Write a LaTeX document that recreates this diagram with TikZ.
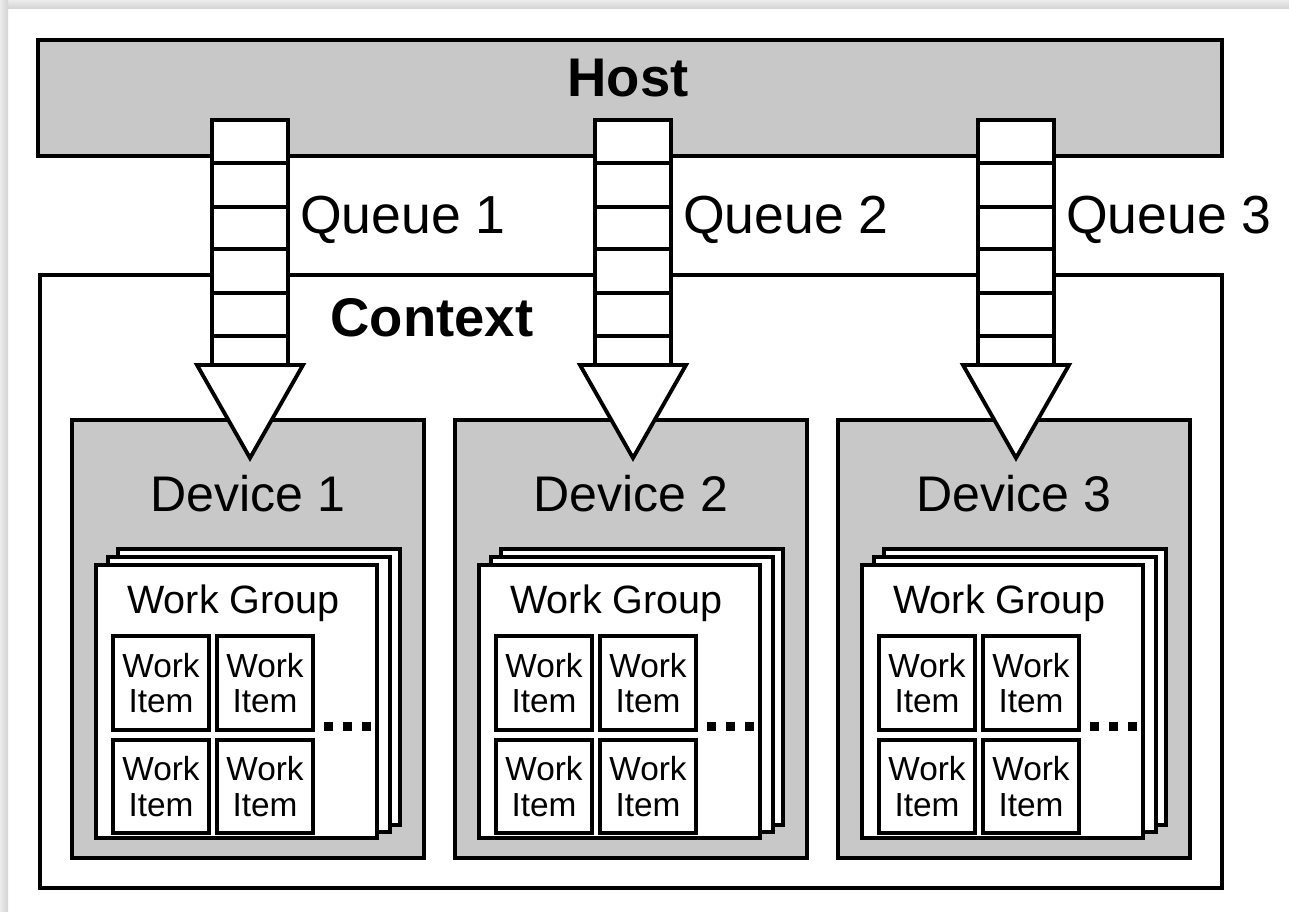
\documentclass[tikz,border=0pt]{standalone}
\usepackage{fontspec}
\setmainfont{Liberation Sans}
\usetikzlibrary{positioning,calc}

\definecolor{boxgrey}{RGB}{200,200,200}
\newcommand{\px}{0.02cm}
\newcommand{\boldlabelfont}{\bfseries\fontsize{31}{37}\selectfont}
\newcommand{\queuefont}{\fontsize{30.5}{36}\selectfont}
\newcommand{\devfont}{\fontsize{28.5}{34}\selectfont}
\newcommand{\groupfont}{\fontsize{22.5}{27}\selectfont}
\newcommand{\itemfont}{\fontsize{19}{20.4}\selectfont}

\begin{document}
\begin{tikzpicture}[x=0.02cm, y=-0.02cm, line width=2.2pt, inner sep=0pt, outer sep=0pt]
	\tikzstyle{box}=[draw=black, rectangle, anchor=north west]
	\tikzstyle{grey box}=[box, fill=boxgrey]
	\tikzstyle{white box}=[box, fill=white]
	\tikzstyle{label}=[anchor=base, text=black]
	\useasboundingbox (0,0) rectangle (1289,912);
	\fill[white] (0,0) rectangle (1289,912);
	% page shadow
	\shade[top color=gray!15, bottom color=gray!35] (0,0) rectangle (1289,9);
	\shade[left color=gray!15, right color=gray!35] (0,0) rectangle (8,912);

	\node[white box, minimum width=1182*\px, minimum height=613*\px] (context) at (40,275) {};
	\node[grey box, minimum width=1184*\px, minimum height=116*\px] (host) at (38,40) {};
	\node[label, font=\boldlabelfont] (hostlabel) at (628,97) {Host};
	\node[label, font=\boldlabelfont] (contextlabel) at (432,337) {Context};

	\foreach \d in {1,2,3} {
		\pgfmathsetmacro{\dx}{(\d-1)*383}
		\node[grey box, minimum width=352*\px, minimum height=438*\px] (dev\d) at (72+\dx,420) {};
		\node[label, font=\devfont] (devlabel\d) at ($(dev\d.north)+(0,91)$) {Device \d};
		% stacked work groups
		\node[white box, minimum width=282*\px, minimum height=276*\px] (wgc\d) at (118+\dx,549) {};
		\node[white box, minimum width=282*\px, minimum height=275*\px] (wgb\d) at (108+\dx,557) {};
		\node[white box, minimum width=281*\px, minimum height=273*\px] (wg\d) at (96+\dx,565) {};
		\node[label, font=\groupfont] (wglabel\d) at ($(wg\d.north)+(-3,48)$) {Work Group};
		\node[white box, minimum width=96*\px, minimum height=94*\px, font=\itemfont, align=center] (item\d-1) at (113+\dx,636) {Work\\Item};
		\node[white box, minimum width=96*\px, minimum height=94*\px, font=\itemfont, align=center] (item\d-2) at (217+\dx,636) {Work\\Item};
		\node[white box, minimum width=96*\px, minimum height=93*\px, font=\itemfont, align=center] (item\d-3) at (113+\dx,740) {Work\\Item};
		\node[white box, minimum width=96*\px, minimum height=93*\px, font=\itemfont, align=center] (item\d-4) at (217+\dx,740) {Work\\Item};
		\foreach \k in {0,1,2}
			\fill ($(item\d-2.east)+(11+\k*19,48)$) rectangle ++(9,-9);
	}

	% command queues
	\foreach \d in {1,2,3} {
		\pgfmathsetmacro{\dx}{(\d-1)*383}
		\node[white box, minimum width=76*\px, minimum height=245*\px] (queue\d) at (212+\dx,120) {};
		\foreach \yy in {43,87,129,173,216}
			\draw ($(queue\d.north west)+(0,\yy)$) -- ++(76,0);
		\coordinate (qtip\d) at ($(queue\d.south)+(0,93)$);
		\draw[fill=white] ($(queue\d.south)+(-53,0)$) -- ($(queue\d.south)+(53,0)$) -- (qtip\d) -- cycle;
		\node[label, anchor=base west, font=\queuefont] (qlabel\d) at ($(queue\d.north east)+(12,114)$) {Queue \d};
	}
\end{tikzpicture}
\end{document}
